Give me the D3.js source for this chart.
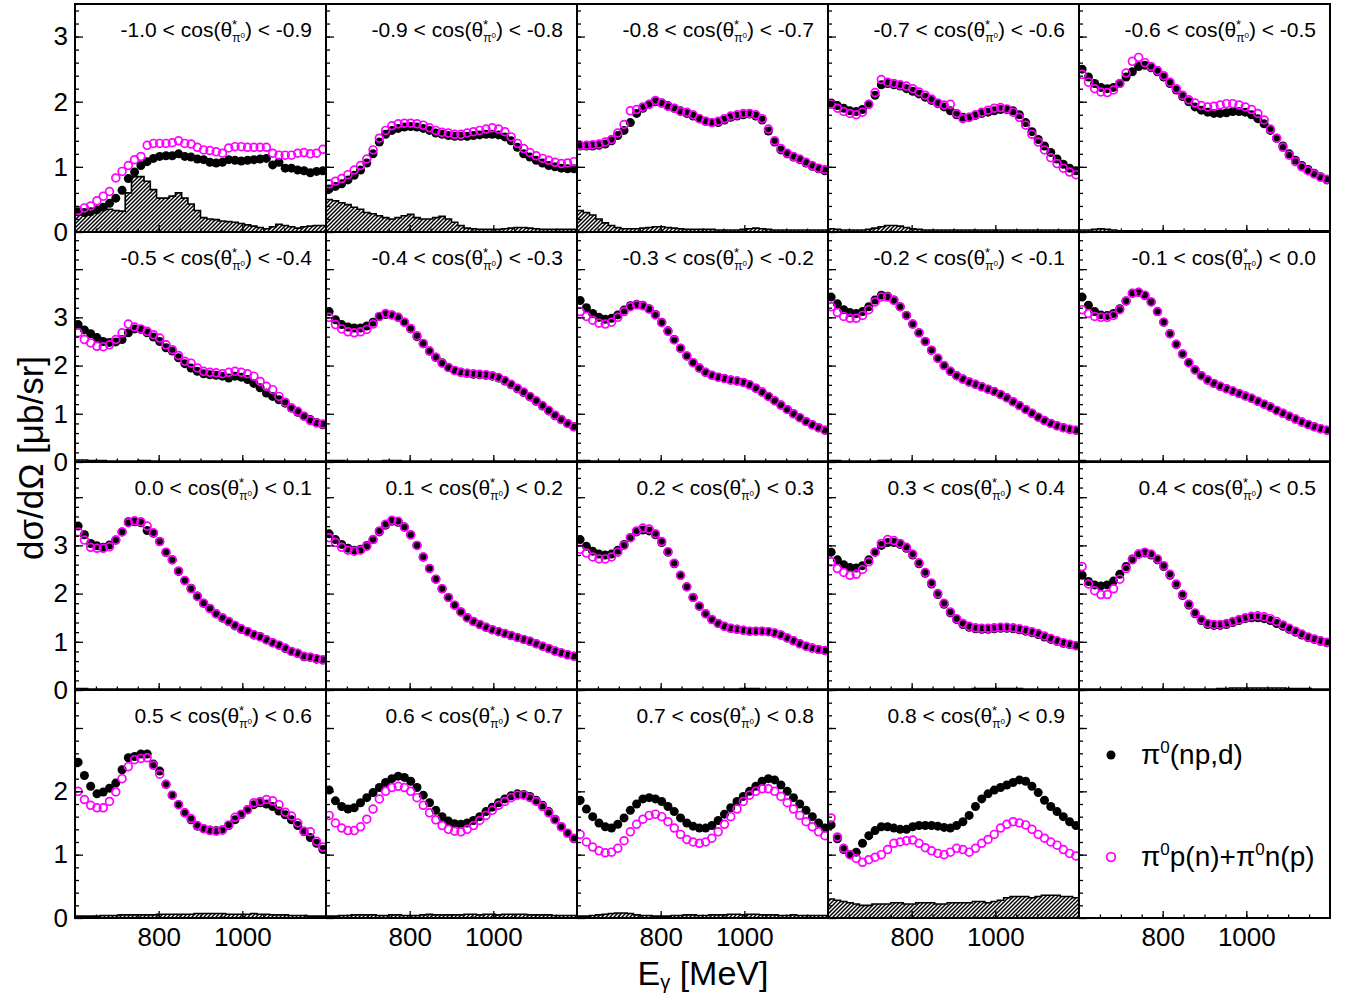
<!DOCTYPE html>
<html>
<head>
<meta charset="utf-8">
<script src="https://cdn.jsdelivr.net/npm/d3@7"></script>
<style>
  body { margin: 0; background: #fff; }
  text { font-family: "Liberation Sans", Arial, Helvetica, sans-serif; fill: #000; }
</style>
</head>
<body>
<svg id="chart" width="1351" height="995"></svg>
<script>
// photon energy bin centres (MeV), 15 MeV wide bins
const energies = [607.5,622.5,637.5,652.5,667.5,682.5,697.5,712.5,727.5,742.5,757.5,772.5,787.5,802.5,817.5,832.5,847.5,862.5,877.5,892.5,
                  907.5,922.5,937.5,952.5,967.5,982.5,997.5,1012.5,1027.5,1042.5,1057.5,1072.5,1087.5,1102.5,1117.5,1132.5,1147.5,1162.5,1177.5,1192.5];
const binHalfWidth = 7.5;

// cos(theta*) bin edges, one panel per bin
const cosEdges = ["-1.0","-0.9","-0.8","-0.7","-0.6","-0.5","-0.4","-0.3","-0.2","-0.1","0.0","0.1","0.2","0.3","0.4","0.5","0.6","0.7","0.8","0.9"];

const xTickLabels = [800, 1000];
const yTickLabels = [[0,1,2,3],[0,1,2,3],[0,1,2,3],[0,1,2]];

// pi0(np,d) - black dots
const npd = [
 [0.31,0.30,0.31,0.34,0.38,0.44,0.52,0.64,0.82,0.92,1.02,1.08,1.13,1.16,1.17,1.17,1.20,1.16,1.15,1.12,1.11,1.07,1.06,1.07,1.11,1.10,1.09,1.10,1.11,1.12,1.13,1.03,1.07,0.98,0.98,0.95,0.94,0.91,0.93,0.94],
 [0.66,0.70,0.74,0.80,0.87,0.95,1.06,1.20,1.38,1.50,1.56,1.59,1.61,1.62,1.61,1.59,1.56,1.52,1.50,1.48,1.47,1.47,1.47,1.48,1.49,1.50,1.50,1.49,1.46,1.40,1.30,1.20,1.15,1.10,1.06,1.02,1.00,0.98,0.97,0.97],
 [1.32,1.32,1.32,1.33,1.35,1.40,1.48,1.56,1.68,1.82,1.90,1.96,2.00,1.98,1.94,1.90,1.86,1.82,1.78,1.74,1.70,1.68,1.68,1.72,1.76,1.78,1.80,1.81,1.78,1.72,1.55,1.38,1.26,1.20,1.15,1.11,1.06,1.01,0.97,0.94],
 [1.98,1.94,1.90,1.86,1.85,1.88,1.96,2.10,2.26,2.28,2.26,2.24,2.20,2.16,2.12,2.07,2.02,1.97,1.92,1.86,1.80,1.76,1.76,1.79,1.82,1.84,1.86,1.88,1.88,1.86,1.80,1.68,1.54,1.42,1.32,1.22,1.12,1.04,0.98,0.94],
 [2.50,2.38,2.28,2.22,2.20,2.22,2.28,2.38,2.46,2.54,2.56,2.52,2.46,2.38,2.28,2.18,2.08,2.00,1.92,1.87,1.84,1.82,1.82,1.83,1.85,1.85,1.84,1.80,1.74,1.66,1.56,1.44,1.32,1.20,1.10,1.02,0.96,0.90,0.85,0.80],
 [2.85,2.74,2.66,2.58,2.50,2.48,2.49,2.54,2.68,2.76,2.75,2.68,2.59,2.50,2.37,2.30,2.16,2.04,1.95,1.88,1.83,1.81,1.80,1.78,1.74,1.78,1.76,1.71,1.63,1.54,1.43,1.36,1.29,1.22,1.12,1.03,0.95,0.88,0.82,0.77],
 [3.12,2.95,2.85,2.80,2.78,2.78,2.82,2.90,3.02,3.06,3.05,3.00,2.90,2.76,2.60,2.45,2.30,2.17,2.06,1.96,1.90,1.86,1.84,1.82,1.81,1.80,1.78,1.74,1.68,1.60,1.52,1.44,1.35,1.26,1.16,1.06,0.96,0.88,0.80,0.73],
 [3.35,3.20,3.08,3.00,2.96,2.98,3.05,3.15,3.24,3.27,3.25,3.18,3.06,2.90,2.72,2.54,2.36,2.20,2.06,1.95,1.86,1.80,1.76,1.73,1.70,1.68,1.65,1.60,1.53,1.45,1.36,1.27,1.18,1.09,1.00,0.92,0.84,0.77,0.71,0.66],
 [3.42,3.28,3.16,3.10,3.08,3.12,3.22,3.36,3.46,3.44,3.36,3.22,3.04,2.86,2.68,2.50,2.32,2.15,2.00,1.88,1.79,1.72,1.66,1.61,1.56,1.51,1.46,1.40,1.33,1.25,1.17,1.09,1.01,0.93,0.86,0.80,0.75,0.71,0.68,0.66],
 [3.42,3.25,3.12,3.05,3.04,3.08,3.18,3.34,3.50,3.52,3.45,3.32,3.12,2.90,2.66,2.44,2.24,2.06,1.91,1.79,1.70,1.63,1.57,1.52,1.47,1.42,1.37,1.32,1.26,1.20,1.14,1.07,1.01,0.95,0.89,0.83,0.78,0.73,0.69,0.66],
 [3.40,3.22,3.04,2.99,2.96,3.01,3.11,3.28,3.49,3.49,3.47,3.31,3.25,3.08,2.85,2.70,2.46,2.27,2.11,1.95,1.80,1.69,1.58,1.49,1.42,1.33,1.26,1.21,1.14,1.11,1.04,0.98,0.93,0.86,0.80,0.76,0.69,0.68,0.64,0.62],
 [3.24,3.12,3.02,2.94,2.90,2.92,3.00,3.12,3.28,3.42,3.50,3.48,3.38,3.22,3.00,2.76,2.52,2.30,2.10,1.92,1.76,1.62,1.50,1.42,1.36,1.30,1.25,1.21,1.17,1.13,1.09,1.05,1.01,0.96,0.91,0.86,0.81,0.77,0.73,0.70],
 [3.12,2.98,2.88,2.82,2.80,2.82,2.90,3.02,3.16,3.28,3.32,3.30,3.22,3.06,2.86,2.62,2.38,2.14,1.92,1.74,1.58,1.46,1.38,1.32,1.28,1.26,1.24,1.22,1.22,1.22,1.21,1.18,1.14,1.08,1.02,0.96,0.91,0.87,0.84,0.82],
 [2.86,2.70,2.60,2.54,2.53,2.58,2.70,2.86,3.00,3.06,3.06,3.02,2.94,2.80,2.62,2.42,2.20,1.98,1.78,1.60,1.46,1.36,1.30,1.27,1.26,1.26,1.27,1.28,1.28,1.27,1.25,1.22,1.19,1.15,1.10,1.05,1.01,0.97,0.94,0.92],
 [2.38,2.25,2.18,2.16,2.18,2.26,2.40,2.56,2.72,2.82,2.84,2.80,2.70,2.56,2.38,2.18,1.96,1.76,1.58,1.44,1.36,1.34,1.34,1.36,1.40,1.44,1.48,1.50,1.50,1.48,1.44,1.38,1.32,1.26,1.20,1.14,1.09,1.05,1.01,0.98],
 [2.46,2.25,2.08,1.96,1.99,2.05,2.13,2.34,2.53,2.55,2.59,2.59,2.43,2.32,2.11,1.94,1.79,1.66,1.55,1.45,1.41,1.39,1.38,1.39,1.46,1.55,1.63,1.71,1.79,1.82,1.80,1.76,1.69,1.63,1.55,1.46,1.36,1.27,1.18,1.08],
 [2.02,1.85,1.76,1.72,1.74,1.82,1.90,1.98,2.06,2.14,2.20,2.24,2.22,2.16,2.06,1.94,1.82,1.70,1.60,1.53,1.49,1.48,1.50,1.54,1.60,1.68,1.75,1.82,1.88,1.93,1.96,1.95,1.92,1.86,1.78,1.68,1.56,1.44,1.34,1.25],
 [1.86,1.72,1.60,1.50,1.44,1.42,1.48,1.58,1.70,1.80,1.88,1.90,1.88,1.84,1.76,1.68,1.58,1.50,1.45,1.42,1.42,1.46,1.54,1.64,1.74,1.84,1.92,2.00,2.08,2.16,2.20,2.18,2.10,2.00,1.90,1.80,1.70,1.60,1.50,1.42],
 [1.47,1.25,1.08,1.00,1.04,1.18,1.30,1.38,1.44,1.44,1.42,1.40,1.40,1.44,1.46,1.46,1.46,1.45,1.43,1.42,1.46,1.52,1.62,1.76,1.88,1.96,2.02,2.06,2.10,2.14,2.18,2.16,2.08,1.98,1.86,1.76,1.68,1.60,1.52,1.46]
];

// pi0 p(n) + pi0 n(p) - open magenta circles
const quasiFree = [
 [0.33,0.37,0.40,0.48,0.55,0.62,0.83,0.93,1.02,1.11,1.16,1.33,1.36,1.36,1.36,1.37,1.40,1.36,1.35,1.30,1.26,1.25,1.23,1.21,1.29,1.31,1.31,1.30,1.30,1.30,1.30,1.21,1.18,1.18,1.18,1.21,1.22,1.20,1.21,1.27],
 [0.74,0.78,0.82,0.88,0.95,1.02,1.12,1.26,1.44,1.56,1.63,1.66,1.67,1.67,1.66,1.64,1.60,1.56,1.53,1.52,1.50,1.50,1.52,1.54,1.56,1.58,1.60,1.58,1.54,1.46,1.36,1.28,1.22,1.17,1.13,1.10,1.07,1.05,1.06,1.08],
 [1.33,1.33,1.34,1.35,1.38,1.42,1.52,1.65,1.86,1.88,1.92,1.96,2.02,1.98,1.93,1.90,1.85,1.84,1.80,1.74,1.70,1.68,1.70,1.74,1.78,1.80,1.82,1.82,1.80,1.74,1.58,1.40,1.28,1.21,1.16,1.12,1.07,1.02,0.98,0.96],
 [1.96,1.90,1.85,1.82,1.80,1.84,1.96,2.14,2.34,2.30,2.28,2.26,2.24,2.20,2.15,2.10,2.04,1.98,1.95,1.96,1.82,1.74,1.76,1.80,1.84,1.87,1.90,1.91,1.89,1.84,1.76,1.64,1.50,1.38,1.26,1.14,1.05,0.98,0.92,0.88],
 [2.42,2.30,2.20,2.15,2.14,2.18,2.28,2.44,2.62,2.68,2.60,2.54,2.48,2.40,2.30,2.20,2.10,2.03,1.98,1.94,1.92,1.93,1.95,1.97,1.97,1.95,1.92,1.88,1.82,1.72,1.58,1.44,1.30,1.18,1.08,1.00,0.94,0.89,0.84,0.81],
 [2.68,2.54,2.47,2.40,2.39,2.43,2.54,2.68,2.86,2.80,2.76,2.71,2.64,2.57,2.43,2.33,2.21,2.09,2.05,1.95,1.88,1.86,1.85,1.83,1.86,1.88,1.86,1.83,1.78,1.67,1.57,1.50,1.36,1.24,1.12,1.05,0.95,0.86,0.81,0.79],
 [3.00,2.85,2.76,2.70,2.68,2.70,2.75,2.86,3.02,3.08,3.05,3.00,2.90,2.77,2.62,2.46,2.30,2.17,2.05,1.96,1.90,1.86,1.84,1.83,1.82,1.81,1.79,1.75,1.69,1.61,1.53,1.45,1.36,1.27,1.17,1.07,0.97,0.88,0.80,0.73],
 [3.12,3.02,2.94,2.88,2.86,2.90,3.00,3.12,3.22,3.26,3.24,3.17,3.05,2.89,2.71,2.53,2.36,2.20,2.06,1.95,1.86,1.80,1.76,1.73,1.70,1.68,1.65,1.60,1.53,1.45,1.36,1.27,1.18,1.09,1.00,0.92,0.84,0.77,0.71,0.66],
 [3.22,3.10,3.02,2.98,2.98,3.04,3.16,3.32,3.42,3.42,3.35,3.22,3.04,2.86,2.68,2.50,2.32,2.15,2.00,1.88,1.79,1.72,1.66,1.61,1.56,1.51,1.46,1.40,1.33,1.25,1.17,1.09,1.01,0.93,0.86,0.80,0.75,0.71,0.68,0.66],
 [3.16,3.08,3.02,3.00,3.00,3.04,3.16,3.34,3.50,3.52,3.46,3.32,3.12,2.90,2.66,2.44,2.24,2.06,1.91,1.79,1.70,1.63,1.57,1.52,1.47,1.42,1.37,1.32,1.26,1.20,1.14,1.07,1.01,0.95,0.89,0.83,0.78,0.73,0.69,0.66],
 [3.28,3.11,2.96,2.94,2.94,2.97,3.11,3.28,3.47,3.51,3.49,3.40,3.26,3.08,2.86,2.70,2.47,2.27,2.10,1.94,1.80,1.69,1.58,1.50,1.42,1.34,1.27,1.21,1.15,1.10,1.04,0.98,0.93,0.87,0.80,0.76,0.70,0.68,0.65,0.63],
 [3.16,3.06,2.96,2.90,2.88,2.90,2.98,3.12,3.30,3.44,3.52,3.50,3.38,3.22,3.00,2.76,2.52,2.30,2.10,1.92,1.76,1.62,1.50,1.42,1.36,1.30,1.25,1.21,1.17,1.13,1.09,1.05,1.01,0.96,0.91,0.86,0.81,0.77,0.73,0.70],
 [2.92,2.84,2.76,2.72,2.72,2.76,2.86,3.00,3.16,3.30,3.36,3.34,3.24,3.08,2.87,2.63,2.38,2.14,1.92,1.74,1.58,1.46,1.38,1.32,1.28,1.26,1.24,1.22,1.22,1.22,1.21,1.18,1.14,1.08,1.02,0.96,0.91,0.87,0.84,0.82],
 [2.66,2.52,2.44,2.38,2.40,2.50,2.66,2.86,3.04,3.12,3.10,3.04,2.96,2.82,2.64,2.44,2.22,2.00,1.80,1.62,1.48,1.38,1.32,1.29,1.28,1.28,1.29,1.30,1.30,1.29,1.27,1.24,1.21,1.17,1.12,1.07,1.02,0.98,0.95,0.92],
 [2.56,2.20,2.06,1.98,1.98,2.10,2.30,2.52,2.70,2.82,2.86,2.82,2.72,2.58,2.40,2.20,1.98,1.78,1.60,1.46,1.38,1.36,1.36,1.38,1.42,1.46,1.50,1.53,1.54,1.52,1.48,1.42,1.35,1.28,1.22,1.16,1.10,1.06,1.02,0.99],
 [2.00,1.87,1.78,1.74,1.74,1.84,1.99,2.20,2.39,2.50,2.52,2.53,2.41,2.27,2.11,1.94,1.79,1.66,1.57,1.46,1.41,1.38,1.37,1.39,1.47,1.59,1.64,1.71,1.82,1.84,1.87,1.85,1.79,1.67,1.61,1.50,1.37,1.36,1.21,1.12],
 [1.62,1.50,1.42,1.38,1.38,1.44,1.56,1.72,1.88,2.00,2.06,2.08,2.06,2.00,1.90,1.78,1.66,1.55,1.46,1.40,1.37,1.36,1.40,1.46,1.54,1.62,1.70,1.78,1.84,1.90,1.94,1.94,1.90,1.84,1.76,1.66,1.55,1.44,1.34,1.26],
 [1.32,1.20,1.12,1.06,1.03,1.04,1.10,1.22,1.36,1.48,1.56,1.62,1.64,1.60,1.52,1.42,1.32,1.24,1.20,1.18,1.20,1.26,1.36,1.48,1.60,1.72,1.84,1.94,2.00,2.04,2.04,2.00,1.92,1.82,1.72,1.62,1.52,1.44,1.36,1.30],
 [1.58,1.28,1.10,1.00,0.94,0.88,0.92,0.96,1.00,1.08,1.18,1.20,1.22,1.23,1.18,1.11,1.06,1.02,1.00,1.04,1.10,1.08,1.04,1.10,1.18,1.24,1.32,1.42,1.48,1.52,1.50,1.47,1.40,1.32,1.26,1.20,1.15,1.08,1.02,0.98]
];

// systematic uncertainty - hatched histogram
const syst = [
 [0.30,0.33,0.34,0.35,0.35,0.35,0.33,0.32,0.60,0.85,0.85,0.78,0.65,0.52,0.52,0.55,0.60,0.52,0.43,0.33,0.22,0.20,0.19,0.17,0.16,0.15,0.13,0.11,0.09,0.07,0.05,0.08,0.12,0.10,0.08,0.06,0.08,0.09,0.10,0.10],
 [0.50,0.48,0.45,0.42,0.38,0.35,0.30,0.28,0.25,0.22,0.20,0.22,0.25,0.27,0.22,0.20,0.20,0.22,0.24,0.20,0.15,0.10,0.06,0.05,0.04,0.04,0.04,0.04,0.05,0.06,0.07,0.07,0.06,0.05,0.04,0.04,0.04,0.04,0.04,0.04],
 [0.33,0.30,0.26,0.20,0.14,0.10,0.07,0.05,0.05,0.05,0.06,0.07,0.08,0.08,0.07,0.06,0.05,0.04,0.04,0.04,0.04,0.04,0.03,0.03,0.03,0.03,0.04,0.05,0.06,0.05,0.04,0.03,0.03,0.03,0.03,0.03,0.03,0.03,0.03,0.03],
 [0.05,0.04,0.03,0.03,0.03,0.03,0.04,0.06,0.08,0.10,0.10,0.09,0.07,0.05,0.04,0.03,0.03,0.03,0.03,0.03,0.03,0.03,0.03,0.03,0.03,0.03,0.03,0.03,0.03,0.03,0.03,0.03,0.03,0.03,0.03,0.03,0.03,0.03,0.03,0.03],
 [0.03,0.03,0.04,0.05,0.04,0.03,0.02,0.02,0.02,0.02,0.02,0.02,0.02,0.02,0.02,0.02,0.02,0.02,0.02,0.02,0.02,0.02,0.02,0.02,0.02,0.02,0.02,0.02,0.02,0.02,0.02,0.02,0.02,0.02,0.02,0.02,0.02,0.02,0.02,0.02],
 [0.04,0.04,0.03,0.03,0.03,0.02,0.02,0.02,0.02,0.02,0.03,0.03,0.02,0.02,0.02,0.02,0.02,0.02,0.02,0.02,0.02,0.02,0.02,0.02,0.02,0.02,0.02,0.02,0.02,0.02,0.02,0.02,0.02,0.02,0.02,0.02,0.02,0.02,0.02,0.02],
 [0.03,0.03,0.03,0.02,0.02,0.02,0.02,0.02,0.02,0.03,0.03,0.03,0.02,0.02,0.02,0.02,0.02,0.02,0.02,0.02,0.02,0.02,0.02,0.02,0.02,0.02,0.02,0.02,0.02,0.02,0.02,0.02,0.02,0.02,0.02,0.02,0.02,0.02,0.02,0.02],
 [0.03,0.03,0.02,0.02,0.02,0.02,0.02,0.02,0.02,0.02,0.02,0.02,0.02,0.02,0.02,0.02,0.02,0.02,0.02,0.02,0.02,0.02,0.02,0.02,0.02,0.02,0.02,0.02,0.02,0.02,0.02,0.02,0.02,0.02,0.02,0.02,0.02,0.02,0.02,0.02],
 [0.03,0.03,0.02,0.02,0.02,0.02,0.02,0.02,0.03,0.03,0.02,0.02,0.02,0.02,0.02,0.02,0.02,0.02,0.02,0.02,0.02,0.02,0.02,0.02,0.02,0.02,0.02,0.02,0.02,0.02,0.02,0.02,0.02,0.02,0.02,0.02,0.02,0.02,0.02,0.02],
 [0.03,0.02,0.02,0.02,0.02,0.02,0.02,0.02,0.02,0.02,0.02,0.02,0.02,0.02,0.02,0.02,0.02,0.02,0.02,0.02,0.02,0.02,0.02,0.02,0.02,0.02,0.02,0.02,0.02,0.02,0.02,0.02,0.02,0.02,0.02,0.02,0.02,0.02,0.02,0.02],
 [0.03,0.03,0.02,0.02,0.02,0.02,0.02,0.02,0.02,0.02,0.02,0.02,0.02,0.02,0.02,0.02,0.02,0.02,0.02,0.02,0.02,0.02,0.02,0.02,0.02,0.02,0.02,0.02,0.02,0.02,0.02,0.02,0.02,0.02,0.02,0.02,0.02,0.02,0.02,0.02],
 [0.02,0.02,0.02,0.02,0.02,0.02,0.02,0.02,0.02,0.02,0.02,0.02,0.02,0.02,0.02,0.02,0.02,0.02,0.02,0.02,0.02,0.02,0.02,0.02,0.02,0.02,0.02,0.02,0.02,0.02,0.02,0.02,0.02,0.02,0.02,0.02,0.02,0.02,0.02,0.02],
 [0.02,0.02,0.02,0.02,0.02,0.02,0.02,0.02,0.02,0.02,0.02,0.02,0.02,0.02,0.02,0.02,0.02,0.02,0.02,0.02,0.02,0.02,0.02,0.02,0.02,0.02,0.03,0.03,0.03,0.02,0.02,0.02,0.02,0.02,0.02,0.02,0.02,0.02,0.02,0.02],
 [0.02,0.02,0.02,0.02,0.02,0.02,0.02,0.02,0.02,0.02,0.02,0.02,0.02,0.02,0.02,0.02,0.02,0.02,0.02,0.02,0.02,0.02,0.02,0.03,0.03,0.03,0.03,0.03,0.03,0.03,0.03,0.02,0.02,0.02,0.02,0.02,0.02,0.02,0.02,0.02],
 [0.02,0.02,0.02,0.02,0.02,0.02,0.02,0.02,0.02,0.02,0.02,0.02,0.02,0.02,0.02,0.02,0.02,0.02,0.02,0.02,0.02,0.02,0.03,0.03,0.04,0.04,0.04,0.04,0.04,0.04,0.04,0.04,0.04,0.03,0.03,0.03,0.03,0.02,0.02,0.02],
 [0.03,0.03,0.03,0.03,0.04,0.04,0.04,0.05,0.05,0.05,0.05,0.05,0.05,0.06,0.06,0.06,0.06,0.06,0.06,0.07,0.07,0.07,0.07,0.07,0.06,0.06,0.06,0.06,0.07,0.06,0.06,0.05,0.05,0.05,0.04,0.04,0.04,0.03,0.03,0.03],
 [0.03,0.03,0.04,0.04,0.05,0.05,0.05,0.05,0.04,0.04,0.05,0.05,0.04,0.04,0.04,0.05,0.06,0.05,0.05,0.05,0.05,0.05,0.06,0.06,0.05,0.06,0.06,0.05,0.06,0.06,0.06,0.06,0.05,0.05,0.05,0.05,0.04,0.04,0.04,0.04],
 [0.03,0.03,0.04,0.05,0.06,0.07,0.08,0.08,0.07,0.05,0.04,0.04,0.03,0.03,0.03,0.04,0.04,0.05,0.05,0.04,0.04,0.05,0.05,0.05,0.06,0.06,0.05,0.06,0.06,0.05,0.05,0.05,0.04,0.04,0.05,0.04,0.04,0.04,0.04,0.04],
 [0.30,0.28,0.26,0.24,0.22,0.20,0.20,0.22,0.22,0.22,0.24,0.24,0.22,0.22,0.24,0.24,0.24,0.22,0.22,0.24,0.24,0.24,0.24,0.26,0.26,0.24,0.26,0.28,0.32,0.34,0.34,0.34,0.32,0.34,0.36,0.36,0.36,0.34,0.34,0.32]
];

// layout of the 4 x 5 grid
const left0 = 75, pw = 251;
const rowTop = [4, 232, 462, 690];
const rowBot = [232, 462, 690, 918];
const yMax = [3.5, 4.77, 4.73, 3.6];

const svg = d3.select("#chart");
const defs = svg.append("defs");

// diagonal hatching like ROOT fill style 3004
const hatch = defs.append("pattern")
    .attr("id", "hatch")
    .attr("patternUnits", "userSpaceOnUse")
    .attr("width", 4).attr("height", 4);
hatch.append("path")
    .attr("d", "M-1,1 l2,-2 M0,4 l4,-4 M3,5 l2,-2")
    .attr("stroke", "#000").attr("stroke-width", 1.5);

const x = d3.scaleLinear().domain([600, 1200]).range([0, pw]);

function drawTitle(g, lo, hi) {
    const t = g.append("text")
        .attr("x", pw - 14).attr("y", 33)
        .attr("text-anchor", "end")
        .style("font-size", "21px");
    t.append("tspan").text(lo + " < cos(θ");
    t.append("tspan").attr("dy", -8).style("font-size", "13px").text("*");
    t.append("tspan").attr("dx", -5).attr("dy", 13).style("font-size", "12px").text("π");
    t.append("tspan").attr("dy", -4).style("font-size", "8px").text("0");
    t.append("tspan").attr("dy", -1).text(") < " + hi);
}

for (let k = 0; k < 20; k++) {
    const r = Math.floor(k / 5), c = k % 5;
    const h = rowBot[r] - rowTop[r];
    const g = svg.append("g").attr("transform", `translate(${left0 + c * pw},${rowTop[r]})`);
    const y = d3.scaleLinear().domain([0, yMax[r]]).range([h, 0]);

    if (k < 19) {
        defs.append("clipPath").attr("id", "clip" + k)
            .append("rect").attr("width", pw).attr("height", h);
        const plot = g.append("g").attr("clip-path", `url(#clip${k})`);

        // hatched systematic histogram
        const steps = syst[k].map((v, i) => ({ e: energies[i] - binHalfWidth, v }));
        steps.push({ e: energies[energies.length - 1] + binHalfWidth, v: syst[k][syst[k].length - 1] });
        plot.append("path")
            .datum(steps)
            .attr("fill", "url(#hatch)")
            .attr("d", d3.area().curve(d3.curveStepAfter).x(d => x(d.e)).y0(y(0)).y1(d => y(d.v)));
        plot.append("path")
            .datum(steps)
            .attr("fill", "none").attr("stroke", "#000").attr("stroke-width", 1.6)
            .attr("d", d3.line().curve(d3.curveStepAfter).x(d => x(d.e)).y(d => y(d.v)));

        // pi0(np,d)
        plot.append("g").selectAll("circle")
            .data(npd[k])
            .join("circle")
            .attr("cx", (d, i) => x(energies[i]))
            .attr("cy", d => y(d))
            .attr("r", 4.5)
            .attr("fill", "#000");

        // pi0p(n)+pi0n(p)
        plot.append("g").selectAll("circle")
            .data(quasiFree[k])
            .join("circle")
            .attr("cx", (d, i) => x(energies[i]))
            .attr("cy", d => y(d))
            .attr("r", 3.9)
            .attr("fill", "none")
            .attr("stroke", "#ff00ff")
            .attr("stroke-width", 1.7);

        drawTitle(g, cosEdges[k], k + 1 < cosEdges.length ? cosEdges[k + 1] : "1.0");
    }

    // y ticks, pointing into the panel
    const nMinor = Math.floor(yMax[r] * 5 + 1e-6);
    g.append("g")
        .call(d3.axisLeft(y).tickValues(d3.range(1, nMinor + 1).map(i => i / 5)).tickSize(-4).tickFormat(""))
        .call(a => a.select(".domain").remove());
    g.append("g")
        .call(d3.axisLeft(y)
            .tickValues(d3.range(0, Math.floor(yMax[r]) + 1))
            .tickSize(-8).tickPadding(7)
            .tickFormat(d => (c === 0 && yTickLabels[r].includes(d)) ? d : ""))
        .call(a => a.select(".domain").remove())
        .call(a => a.selectAll("text").style("font-size", "26px"));

    // x ticks
    g.append("g").attr("transform", `translate(0,${h})`)
        .call(d3.axisBottom(x).tickValues(d3.range(650, 1200, 50)).tickSize(-3.5).tickFormat(""))
        .call(a => a.select(".domain").remove());
    g.append("g").attr("transform", `translate(0,${h})`)
        .call(d3.axisBottom(x).tickValues(xTickLabels).tickSize(-7).tickPadding(10)
            .tickFormat(d => r === 3 ? d : ""))
        .call(a => a.select(".domain").remove())
        .call(a => a.selectAll("text").style("font-size", "26px"));

    g.selectAll(".tick line").attr("stroke-width", 1.3);

    // frame
    g.append("rect")
        .attr("width", pw).attr("height", h)
        .attr("fill", "none").attr("stroke", "#000").attr("stroke-width", 2);

    // legend in the empty last panel
    if (k === 19) {
        g.append("circle").attr("cx", 32).attr("cy", 65).attr("r", 4.5).attr("fill", "#000");
        const t1 = g.append("text").attr("x", 62).attr("y", 74).style("font-size", "28px");
        t1.append("tspan").text("π");
        t1.append("tspan").attr("dy", -11).style("font-size", "17px").text("0");
        t1.append("tspan").attr("dy", 11).text("(np,d)");

        g.append("circle").attr("cx", 32).attr("cy", 167).attr("r", 4.3)
            .attr("fill", "none").attr("stroke", "#ff00ff").attr("stroke-width", 1.8);
        const t2 = g.append("text").attr("x", 62).attr("y", 176).style("font-size", "28px");
        t2.append("tspan").text("π");
        t2.append("tspan").attr("dy", -11).style("font-size", "17px").text("0");
        t2.append("tspan").attr("dy", 11).text("p(n)+π");
        t2.append("tspan").attr("dy", -11).style("font-size", "17px").text("0");
        t2.append("tspan").attr("dy", 11).text("n(p)");
    }
}

// axis titles
svg.append("text")
    .attr("transform", "translate(43,458) rotate(-90)")
    .attr("text-anchor", "middle")
    .style("font-size", "35px")
    .text("dσ/dΩ [μb/sr]");

const xt = svg.append("text")
    .attr("x", 703).attr("y", 985)
    .attr("text-anchor", "middle")
    .style("font-size", "34px");
xt.append("tspan").text("E");
xt.append("tspan").attr("dy", 4).style("font-size", "20px").text("γ");
xt.append("tspan").attr("dy", -4).text(" [MeV]");
</script>
</body>
</html>
